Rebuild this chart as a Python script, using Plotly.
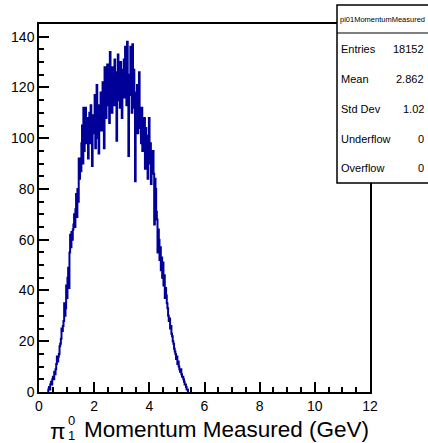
import numpy as np
import plotly.graph_objects as go

# Histogram: 500 bins over [0, 12] GeV; non-empty bins start at bin 13
BIN_WIDTH = 0.024
FIRST_BIN = 13
counts = [
    0, 1, 2, 1, 3, 4, 3, 5, 6, 5,
    8, 7, 9, 11, 14, 12, 14, 15, 18, 19,
    21, 25, 24, 26, 28, 35, 30, 33, 42, 37,
    45, 49, 41, 55, 62, 57, 63, 60, 64, 66,
    70, 65, 72, 78, 69, 80, 75, 92, 84, 88,
    87, 98, 105, 90, 112, 95, 100, 112, 98, 104,
    108, 92, 103, 110, 98, 113, 101, 89, 106, 109,
    102, 117, 96, 108, 121, 100, 110, 94, 113, 107,
    118, 103, 109, 122, 111, 96, 128, 115, 108, 119,
    129, 113, 121, 106, 134, 117, 123, 110, 128, 125,
    113, 131, 118, 126, 99, 121, 133, 115, 124, 112,
    130, 119, 108, 127, 122, 131, 116, 136, 124, 113,
    138, 121, 93, 125, 117, 136, 126, 110, 137, 119,
    127, 112, 83, 118, 107, 121, 102, 115, 126, 104,
    109, 98, 112, 95, 106, 100, 108, 88, 104, 97,
    101, 84, 96, 108, 90, 98, 82, 93, 89, 95,
    86, 66, 84, 80, 71, 68, 55, 64, 60, 52,
    57, 48, 53, 45, 51, 42, 46, 37, 41, 38,
    35, 33, 30, 28, 29, 25, 26, 23, 22, 20,
    19, 17, 16, 15, 13, 14, 11, 12, 10, 9,
    8, 9, 7, 6, 6, 5, 4, 3, 3, 2,
    1, 1, 0,
]
x_ticks = [0, 2, 4, 6, 8, 10, 12]
y_ticks = [0, 20, 40, 60, 80, 100, 120, 140]

stats_title = "pi01MomentumMeasured"
stats_labels = ["Entries", "Mean", "Std Dev", "Underflow", "Overflow"]
stats_values = ["18152", "2.862", "1.02", "0", "0"]

W, H = 428, 443
L, R, T, B = 39, 370, 24, 392  # plot area in pixels


def px(x):
    return (x - L) / (R - L)


def py(y):
    return (B - y) / (B - T)


edges = BIN_WIDTH * (FIRST_BIN + np.arange(len(counts) + 1))
yvals = counts + [counts[-1]]

fig = go.Figure()
fig.add_trace(go.Scatter(
    x=edges, y=yvals, mode="lines",
    line=dict(shape="hv", color="#000099", width=2),
    hoverinfo="skip", showlegend=False,
))

font = "Liberation Sans, Arial, sans-serif"
axis_common = dict(
    showgrid=False, zeroline=False, showline=True, linecolor="black",
    linewidth=1.5, mirror=True, ticks="inside", tickcolor="black",
    tickwidth=1.5, tickfont=dict(family=font, size=14, color="black"),
)
fig.update_xaxes(
    range=[0, 12], tickvals=x_ticks, ticklen=10,
    minor=dict(dtick=0.5, ticklen=5, ticks="inside", tickcolor="black", tickwidth=1.5),
    **axis_common,
)
fig.update_yaxes(
    range=[0, 145], tickvals=y_ticks, ticklen=10,
    minor=dict(dtick=5, ticklen=5, ticks="inside", tickcolor="black", tickwidth=1.5),
    **axis_common,
)

shapes = []
box_l, box_r, box_t, box_b, box_h = 337, 432, 5, 183, 33
shapes.append(dict(type="rect", xref="paper", yref="paper",
                   x0=px(box_l), x1=px(box_r), y0=py(box_b), y1=py(box_t),
                   line=dict(color="black", width=1.5), fillcolor="white", layer="above"))
shapes.append(dict(type="line", xref="paper", yref="paper",
                   x0=px(box_l), x1=px(box_r), y0=py(box_h), y1=py(box_h),
                   line=dict(color="black", width=1.2), layer="above"))

ann = []
ann.append(dict(text=stats_title, xref="paper", yref="paper",
                x=px(382), y=py(19), xanchor="center", yanchor="middle",
                showarrow=False, font=dict(family=font, size=7.5, color="black")))
row_y = [49, 79, 109, 139, 168]
for lab, val, yy in zip(stats_labels, stats_values, row_y):
    ann.append(dict(text=lab, xref="paper", yref="paper", x=px(339), y=py(yy),
                    xanchor="left", yanchor="middle", showarrow=False,
                    font=dict(family=font, size=11, color="black")))
    ann.append(dict(text=val, xref="paper", yref="paper", x=px(426), y=py(yy),
                    xanchor="right", yanchor="middle", showarrow=False,
                    font=dict(family=font, size=11, color="black")))

# x-axis title (right aligned as in ROOT)
ann.append(dict(text="Momentum Measured (GeV)", xref="paper", yref="paper",
                x=px(371), y=py(430), xanchor="right", yanchor="middle",
                showarrow=False, font=dict(family=font, size=22.5, color="black")))
ann.append(dict(text="π", xref="paper", yref="paper",
                x=px(68), y=py(431), xanchor="right", yanchor="middle",
                showarrow=False, font=dict(family=font, size=22.5, color="black")))
ann.append(dict(text="0", xref="paper", yref="paper",
                x=px(66), y=py(420), xanchor="left", yanchor="middle",
                showarrow=False, font=dict(family=font, size=13, color="black")))
ann.append(dict(text="1", xref="paper", yref="paper",
                x=px(66), y=py(435), xanchor="left", yanchor="middle",
                showarrow=False, font=dict(family=font, size=13, color="black")))

fig.update_layout(
    width=W, height=H, autosize=False,
    margin=dict(l=L, r=W - R, t=T, b=H - B, pad=0),
    paper_bgcolor="white", plot_bgcolor="white",
    shapes=shapes, annotations=ann,
    font=dict(family=font, color="black"),
)
fig.write_html(
    "out.html",
    config={"displayModeBar": False},
    post_script="document.body.style.margin='0';document.body.style.padding='0';",
)
